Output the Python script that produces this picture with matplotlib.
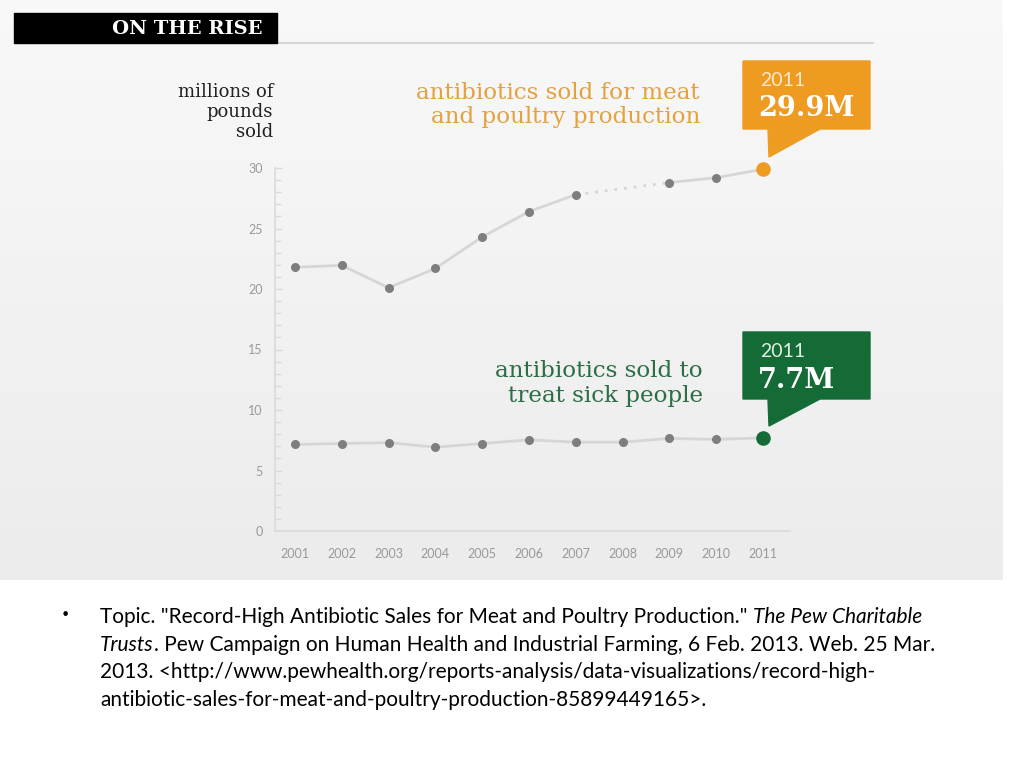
import matplotlib
matplotlib.use("Agg")
import matplotlib.pyplot as plt
import numpy as np
from matplotlib.patches import Rectangle, Polygon
from matplotlib.lines import Line2D

# ---------------- data ----------------
years = [2001, 2002, 2003, 2004, 2005, 2006, 2007, 2008, 2009, 2010, 2011]
meat_poultry = [21.8, 21.95, 20.1, 21.7, 24.3, 26.4, 27.8, None, 28.8, 29.2, 29.9]
human_use = [7.15, 7.23, 7.3, 6.93, 7.23, 7.53, 7.34, 7.34, 7.65, 7.57, 7.7]
y_ticks = [0, 5, 10, 15, 20, 25, 30]
title_text = "ON THE RISE"
ylabel_lines = ["millions of", "pounds", "sold"]
meat_label = ["antibiotics sold for meat", "and poultry production"]
human_label = ["antibiotics sold to", "treat sick people"]
meat_callout = ("2011", "29.9M")
human_callout = ("2011", "7.7M")

W, H = 1024, 768
fig = plt.figure(figsize=(W / 100, H / 100), dpi=100)
fig.patch.set_facecolor("white")


def fx(x):
    return x / W


def fy(y):
    return 1 - y / H


# background gradient panel
bg = fig.add_axes([0, fy(580), fx(1003), 1 - fy(580)])
grad = np.linspace(0, 1, 256).reshape(-1, 1)
top = np.array([0.975, 0.975, 0.975])
bot = np.array([0.925, 0.925, 0.925])
img = top[None, None, :] * (1 - grad[:, :, None]) + bot[None, None, :] * grad[:, :, None]
bg.imshow(img, aspect="auto", extent=[0, 1, 0, 1], origin="upper")
bg.set_axis_off()

ORANGE = "#EE9B22"
ORANGE_TXT = "#E4A23E"
GREEN = "#146B36"
GREEN_TXT = "#2C6E45"
LINE_GRAY = "#D6D6D6"
DOT_GRAY = "#7E7E7E"
AX_GRAY = "#DADADA"
TICK_TXT = "#999999"
SERIF = "DejaVu Serif"

# ---------------- main axes ----------------
left_px, right_px = 275, 790
x0_px, x1_px = 295, 763
per_year = (x1_px - x0_px) / (years[-1] - years[0])
xmin = years[0] - (x0_px - left_px) / per_year
xmax = years[-1] + (right_px - x1_px) / per_year
ax = fig.add_axes([fx(left_px), fy(531), fx(right_px - left_px), fy(168) - fy(531)])
ax.patch.set_alpha(0)
ax.set_xlim(xmin, xmax)
ax.set_ylim(0, 30)
for s in ["top", "right"]:
    ax.spines[s].set_visible(False)
for s in ["left", "bottom"]:
    ax.spines[s].set_color(AX_GRAY)
    ax.spines[s].set_linewidth(1.2)
ax.set_yticks(y_ticks)
ax.set_yticks(np.arange(0, 31, 1), minor=True)
ax.tick_params(axis="y", which="both", direction="in", color=AX_GRAY, length=5, width=1,
               labelcolor=TICK_TXT, labelsize=9, pad=9)
ax.tick_params(axis="y", which="minor", length=4)
ax.set_xticks(years)
ax.set_xticklabels([str(y) for y in years])
ax.tick_params(axis="x", length=0, labelcolor=TICK_TXT, labelsize=9, pad=12)
for lab in ax.get_xticklabels() + ax.get_yticklabels():
    lab.set_family("Lato")

# meat / poultry series (2008 missing -> dotted bridge)
yrs = np.array(years, dtype=float)
mp = np.array([np.nan if v is None else v for v in meat_poultry], dtype=float)
ax.plot(yrs, mp, color=LINE_GRAY, lw=2, zorder=2, solid_capstyle="round", clip_on=False)
valid = ~np.isnan(mp)
vy, vv = yrs[valid], mp[valid]
gap_i = np.where(np.diff(vy) > 1)[0]
for i in gap_i:
    ax.plot(vy[i:i + 2], vv[i:i + 2], color=LINE_GRAY, lw=2, ls=(0, (1, 2.5)), zorder=2)
ax.plot(vy[:-1], vv[:-1], "o", color=DOT_GRAY, ms=6.5, mec="none", zorder=3, clip_on=False)
ax.plot(vy[-1:], vv[-1:], "o", color=ORANGE, ms=10.5, mec="none", zorder=4, clip_on=False)

# human series
hu = np.array(human_use, dtype=float)
ax.plot(yrs, hu, color=LINE_GRAY, lw=2, zorder=2)
ax.plot(yrs[:-1], hu[:-1], "o", color=DOT_GRAY, ms=6.5, mec="none", zorder=3)
ax.plot(yrs[-1:], hu[-1:], "o", color=GREEN, ms=10.5, mec="none", zorder=4, clip_on=False)

# ---------------- title bar ----------------
fig.patches.append(Rectangle((fx(14), fy(43)), fx(277 - 14), fy(13) - fy(43),
                             transform=fig.transFigure, color="black", zorder=5))
fig.lines.append(Line2D([fx(277), fx(873)], [fy(43), fy(43)], transform=fig.transFigure,
                        color="#CFCFCF", lw=1.2))
fig.text(fx(262), fy(29), title_text, color="white", fontsize=14, fontweight="bold",
         family=SERIF, ha="right", va="center", zorder=6)

# y label
for i, t in enumerate(ylabel_lines):
    fig.text(fx(273), fy(92 + 20 * i), t, color="#222222", fontsize=13, family=SERIF,
             ha="right", va="center")

# series labels
for i, t in enumerate(meat_label):
    fig.text(fx(700), fy(93 + 24 * i), t, color=ORANGE_TXT, fontsize=16.6, family=SERIF,
             ha="right", va="center")
for i, t in enumerate(human_label):
    fig.text(fx(703), fy(371 + 25 * i), t, color=GREEN_TXT, fontsize=16.6, family=SERIF,
             ha="right", va="center")


# callouts
def callout(top_y, bot_y, tip_y, color, yr, val, yr_color):
    pts = [(743, top_y), (870, top_y), (870, bot_y), (820, bot_y), (769, tip_y),
           (768, bot_y), (743, bot_y)]
    fig.patches.append(Polygon([(fx(a), fy(b)) for a, b in pts], closed=True,
                               transform=fig.transFigure, color=color, zorder=5))
    fig.text(fx(760), fy(top_y + 20), yr, color=yr_color, fontsize=14, family="Lato",
             ha="left", va="center", zorder=6)
    fig.text(fx(758), fy(top_y + 48), val, color="white", fontsize=19.5, fontweight="bold",
             family=SERIF, ha="left", va="center", zorder=6)


callout(61, 129, 157, ORANGE, meat_callout[0], meat_callout[1], "#FDE9C8")
callout(332, 399, 426, GREEN, human_callout[0], human_callout[1], "#E2F0E4")

# ---------------- footnote ----------------
FN = "Lato"
fig.canvas.draw()
renderer = fig.canvas.get_renderer()

line1 = [('Topic. "Record-High Antibiotic Sales for Meat and Poultry Production." ', "normal"),
         ("The Pew Charitable", "italic")]
# fit font size so that first line spans the same width as the reference
base = 14.0
probe_w = 0
for txt, style in line1:
    t = fig.text(0, 0, txt, fontsize=base, family=FN, style=style)
    probe_w += t.get_window_extent(renderer=renderer).width
    t.remove()
fs = base * 828 / probe_w

fig.text(fx(61), fy(616), "\u2022", fontsize=fs * 0.75, family="DejaVu Sans", ha="left",
         va="center")


def chain(parts, y):
    x = fx(100)
    for txt, style in parts:
        t = fig.text(x, fy(y), txt, fontsize=fs, family=FN, style=style, ha="left",
                     va="center", color="black")
        bb = t.get_window_extent(renderer=renderer)
        x = bb.x1 / W


chain(line1, 617)
chain([("Trusts", "italic"),
       (". Pew Campaign on Human Health and Industrial Farming, 6 Feb. 2013. Web. 25 Mar.", "normal")], 645)
chain([("2013. <http://www.pewhealth.org/reports-analysis/data-visualizations/record-high-", "normal")], 672)
chain([("antibiotic-sales-for-meat-and-poultry-production-85899449165>.", "normal")], 700)

fig.savefig("out.png", dpi=100)
